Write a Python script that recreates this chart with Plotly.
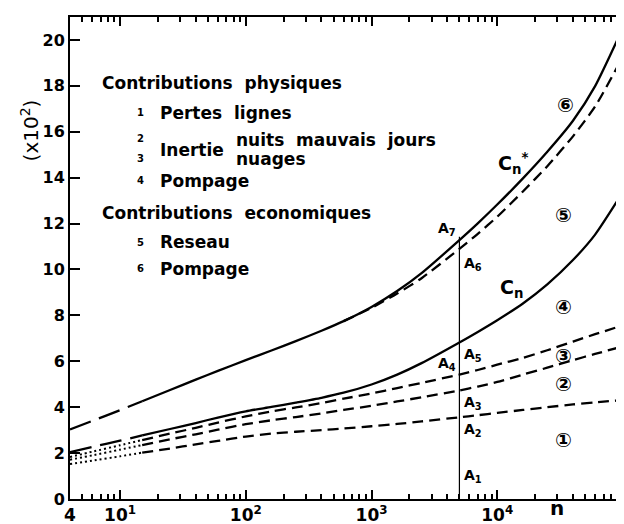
import math
import plotly.graph_objects as go

# ---------------- data ----------------
n_grid = [4, 6, 10, 15, 25, 40, 60, 100, 160, 250, 400, 600, 1000, 1600, 2500,
          5000, 7000, 10000, 16000, 25000, 40000, 60000, 100000]
c1_pertes = [1.52, 1.67, 1.86, 2.02, 2.20, 2.38, 2.53, 2.72, 2.85, 2.93, 3.00, 3.07, 3.17, 3.27, 3.38,
             3.56, 3.65, 3.75, 3.88, 4.00, 4.12, 4.21, 4.31]
c2_nuits = [1.71, 1.90, 2.15, 2.35, 2.60, 2.82, 3.02, 3.26, 3.43, 3.57, 3.73, 3.88, 4.06, 4.25, 4.43,
            4.73, 4.90, 5.10, 5.42, 5.72, 6.05, 6.32, 6.65]
c3_nuages = [1.83, 2.06, 2.34, 2.57, 2.85, 3.10, 3.33, 3.60, 3.82, 3.99, 4.18, 4.37, 4.60, 4.83, 5.06,
             5.42, 5.62, 5.85, 6.15, 6.48, 6.86, 7.18, 7.57]
cn_values = [2.04, 2.27, 2.54, 2.77, 3.05, 3.31, 3.55, 3.82, 4.01, 4.20, 4.41, 4.63, 4.99, 5.42, 5.92,
             6.82, 7.28, 7.79, 8.52, 9.35, 10.41, 11.52, 13.38]
cn_star_values = [3.03, 3.40, 3.87, 4.26, 4.75, 5.20, 5.58, 6.05, 6.47, 6.88, 7.33, 7.75, 8.37, 9.06, 9.84,
                  11.28, 12.01, 12.83, 13.97, 15.13, 16.48, 17.99, 20.54]

n_reseau = [600, 1000, 1600, 2500, 5000, 7000, 10000, 16000, 25000, 40000, 60000, 100000]
c5_reseau = [7.75, 8.33, 8.95, 9.62, 10.90, 11.55, 12.30, 13.40, 14.50, 15.80, 17.10, 19.28]

n_marker = 5000          # vertical line A1 ... A7
n_style_change = 15      # dotted / long-dashed start ends here

x_tick_vals = [4, 10, 100, 1000, 10000, 100000]
x_tick_text = ["4", "10<sup>1</sup>", "10<sup>2</sup>", "10<sup>3</sup>", "10<sup>4</sup>", "10<sup>5</sup>"]
y_tick_vals = [0, 2, 4, 6, 8, 10, 12, 14, 16, 18, 20]

# text block (pixel position of left edge / middle, font size)
legend_lines = [
    ("Contributions  physiques", 92, 77, 17),
    ("1", 127, 107, 10), ("Pertes  lignes", 150, 107, 17),
    ("2", 127, 134, 10), ("Inertie", 150, 145, 17), ("nuits  mauvais  jours", 227, 135, 17),
    ("3", 127, 154, 10), ("nuages", 227, 155, 17),
    ("4", 127, 177, 10), ("Pompage", 150, 177, 17),
    ("Contributions  economiques", 92, 210, 17),
    ("5", 127, 240, 10), ("Reseau", 150, 240, 17),
    ("6", 127, 267, 10), ("Pompage", 150, 267, 17),
]
circled = [("①", 33600, 2.55), ("②", 33600, 5.02), ("③", 33600, 6.21),
           ("④", 33600, 8.38), ("⑤", 33600, 12.38), ("⑥", 34800, 17.15)]

FONT = "DejaVu Sans"
BLACK = "#000000"
LONGDASH = "22px,9px"
DASH = "11px,6px"
DOT = "2px,3px"

fig = go.Figure()


def seg(xs, ys, dash, width, i0, i1, xaxis="x"):
    fig.add_trace(go.Scatter(
        x=xs[i0:i1], y=ys[i0:i1], mode="lines", xaxis=xaxis,
        line=dict(color=BLACK, width=width, dash=dash, shape="spline", smoothing=0.6),
        showlegend=False, hoverinfo="skip"))


isc = n_grid.index(n_style_change)
# curves 1-3: dotted then dashed
for ys in (c1_pertes, c2_nuits, c3_nuages):
    seg(n_grid, ys, DOT, 2, 0, isc + 1)
    seg(n_grid, ys, DASH, 2.3, isc, None)
# Cn: long dash then solid
seg(n_grid, cn_values, LONGDASH, 2.3, 0, isc + 1)
seg(n_grid, cn_values, "solid", 2.3, isc, None)
# Cn*: long dash then solid
seg(n_grid, cn_star_values, LONGDASH, 2.3, 0, isc + 1)
seg(n_grid, cn_star_values, "solid", 2.3, isc, None)
# reseau dashed
seg(n_reseau, c5_reseau, DASH, 2.3, 0, None)

# vertical line at n = 5000 (drawn on the mirrored top axis, same scale)
k = n_grid.index(n_marker)
fig.add_trace(go.Scatter(x=[n_marker, n_marker], y=[0, cn_star_values[k] + 0.15], mode="lines",
                         xaxis="x2", line=dict(color=BLACK, width=1.2),
                         showlegend=False, hoverinfo="skip"))

annotations = []


def px2paper(px, py):
    return (px - 62) / 555.0, (503 - py) / 494.0


for text, px, py, size in legend_lines:
    xp, yp = px2paper(px, py)
    annotations.append(dict(text=text, x=xp, y=yp, xref="paper", yref="paper",
                            xanchor="left", yanchor="middle", showarrow=False,
                            font=dict(family=FONT, size=size, color=BLACK, weight="bold")))

for text, xn, yv in circled:
    annotations.append(dict(text=text, x=math.log10(xn), y=yv, xref="x", yref="y",
                            showarrow=False, font=dict(family=FONT, size=20, color=BLACK, weight="bold")))

# A labels
lx = math.log10(n_marker)
k5 = n_reseau.index(n_marker)
a_labels = [
    ("A<sub>7</sub>", cn_star_values[k], "right", "bottom", -1, 0),
    ("A<sub>6</sub>", c5_reseau[k5], "left", "top", 3, -4),
    ("A<sub>5</sub>", cn_values[k], "left", "top", 3, -2),
    ("A<sub>4</sub>", c3_nuages[k], "right", "bottom", -1, 0),
    ("A<sub>3</sub>", c2_nuits[k], "left", "top", 3, -2),
    ("A<sub>2</sub>", c1_pertes[k], "left", "top", 3, -2),
    ("A<sub>1</sub>", 0.0, "left", "bottom", 3, 12),
]
for text, yv, xa, ya, xs, ys in a_labels:
    annotations.append(dict(text=text, x=lx, y=yv, xref="x", yref="y", xanchor=xa, yanchor=ya,
                            xshift=xs, yshift=ys, showarrow=False,
                            font=dict(family=FONT, size=14, color=BLACK, weight="bold")))

annotations.append(dict(text="C<sub>n</sub><sup>*</sup>", x=math.log10(13300), y=14.6, xref="x", yref="y",
                        showarrow=False, font=dict(family=FONT, size=19, color=BLACK, weight="bold")))
annotations.append(dict(text="C<sub>n</sub>", x=math.log10(13000), y=9.15, xref="x", yref="y",
                        showarrow=False, font=dict(family=FONT, size=19, color=BLACK, weight="bold")))
annotations.append(dict(text="n", x=math.log10(30000), y=0, xref="x", yref="paper", yanchor="top",
                        yshift=5, showarrow=False,
                        font=dict(family=FONT, size=20, color=BLACK, weight="bold")))
annotations.append(dict(text="(x10<sup>2</sup>)", x=(21 - 62) / 555.0, y=(503 - 121) / 494.0,
                        xref="paper", yref="paper", textangle=-90, showarrow=False,
                        xshift=-14, yshift=29,
                        font=dict(family=FONT, size=20, color=BLACK)))

fig.update_layout(
    width=624, height=524,
    margin=dict(l=62, r=7, t=9, b=21),
    paper_bgcolor="white", plot_bgcolor="white",
    annotations=annotations,
    showlegend=False,
)
axis_common = dict(
    type="log", range=[math.log10(4), 5],
    tickvals=x_tick_vals,
    ticks="inside", ticklen=9, tickwidth=1.5, tickcolor=BLACK,
    minor=dict(dtick="D1", ticks="inside", ticklen=5, tickwidth=1.5, tickcolor=BLACK, showgrid=False),
    showgrid=False, zeroline=False,
)
fig.update_layout(
    xaxis=dict(**axis_common, ticktext=x_tick_text,
               showline=True, linewidth=2, linecolor=BLACK, mirror="ticks",
               tickfont=dict(family=FONT, size=17, color=BLACK, weight="bold")),
    xaxis2=dict(**axis_common, overlaying="x", side="top", anchor="y",
                showticklabels=False, showline=True, linewidth=2, linecolor=BLACK),
    yaxis=dict(range=[0, 21], tickvals=y_tick_vals,
               ticks="inside", ticklen=10, tickwidth=2, tickcolor=BLACK,
               showline=True, linewidth=2, linecolor=BLACK, mirror=True,
               showgrid=False, zeroline=False,
               tickfont=dict(family=FONT, size=16, color=BLACK, weight="bold")),
)

fig.write_html("out.html")
